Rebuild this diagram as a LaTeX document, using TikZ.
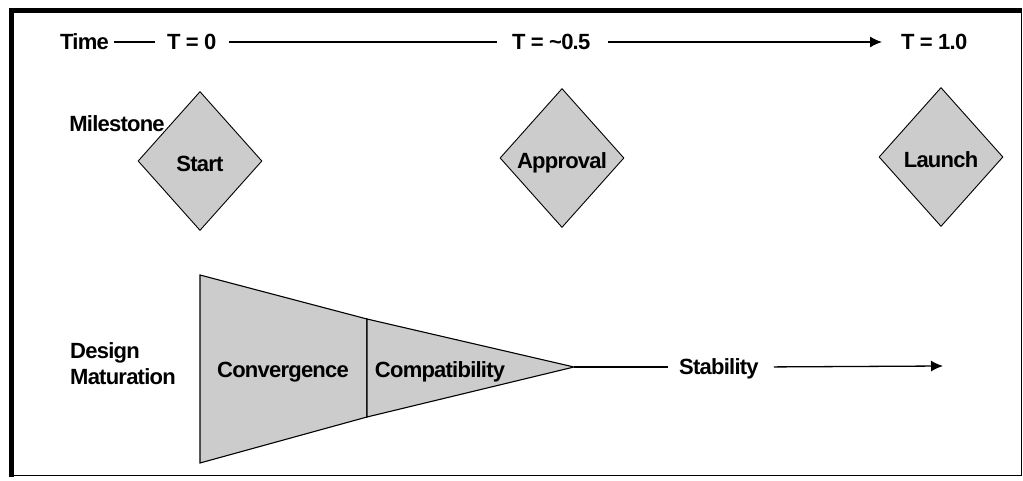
\documentclass[tikz,border=0pt]{standalone}
\usepackage{fontspec}
\setmainfont{Liberation Sans}[LetterSpace=-3.5]
\usetikzlibrary{shapes.geometric,arrows.meta}
\definecolor{stipple}{RGB}{204,204,204}
\begin{document}
\begin{tikzpicture}[x=1pt,y=1pt,
  lbl/.style={inner sep=0pt,font=\fontsize{22}{26}\selectfont\bfseries,
              text height=15.8pt,text depth=0pt},
  milestone/.style={draw,line width=0.9pt,fill=stipple,diamond,inner sep=0pt,
              minimum width=124pt,minimum height=139pt,
              text height=21pt,text depth=0pt,
              font=\fontsize{22}{26}\selectfont\bfseries},
  phase/.style={draw,line width=1.1pt,fill=stipple,line join=miter},
  rule/.style={line width=1.3pt},
  tip/.style={-{Latex[length=12pt,width=11pt]}}]
\useasboundingbox (0,0) rectangle (1023,480);

% frame
\draw[line width=1.8pt] (12,4.5) rectangle (1021.5,469);
\draw[line width=5pt] (11.5,3.5) -- (11.5,469.5) -- (1021.5,469.5);

% time axis
\node[lbl,anchor=west] (time) at (60,438) {Time};
\node[lbl,anchor=west] (t0)   at (167,438) {T = 0};
\node[lbl,anchor=west] (thalf) at (512,438) {T = \textasciitilde0.5};
\node[lbl,anchor=west] (tend) at (901,438) {T = 1.0};
\draw[rule,shorten <=5pt,shorten >=12pt] (time.east) -- (t0.west);
\draw[rule,shorten <=12pt,shorten >=15pt] (t0.east) -- (thalf.west);
\draw[rule,tip,shorten <=18pt,shorten >=19pt] (thalf.east) -- (tend.west);

% milestones
\node[milestone] (start)    at (200,319) {Start};
\node[milestone] (approval) at (562,322) {Approval};
\node[milestone] (launch)   at (941,323) {Launch};
\node[lbl] (mlabel) at (117,356) {Milestone};

% design maturation funnel
\node[lbl,align=left,anchor=west,text height=,text depth=,
      font=\fontsize{22}{26}\selectfont\bfseries] (dm) at (70,116) {Design\\Maturation};
\draw[phase] (200,205) -- (367,161) -- (367,63) -- (200,17) -- cycle;
\draw[phase] (367,161) -- (574,113) -- (367,63) -- cycle;
\coordinate (funneltip) at (574,113);
\node[lbl] (conv) at (283,110) {Convergence};
\node[lbl] (compat) at (440,110) {Compatibility};
\node[lbl,anchor=west] (stab) at (679,113) {Stability};
\coordinate (stabend) at (943,114);
\draw[rule] (funneltip) -- ([xshift=-11pt]stab.west);
\draw[rule,tip,shorten <=15pt] (stab.east) -- (stabend);
\end{tikzpicture}
\end{document}
